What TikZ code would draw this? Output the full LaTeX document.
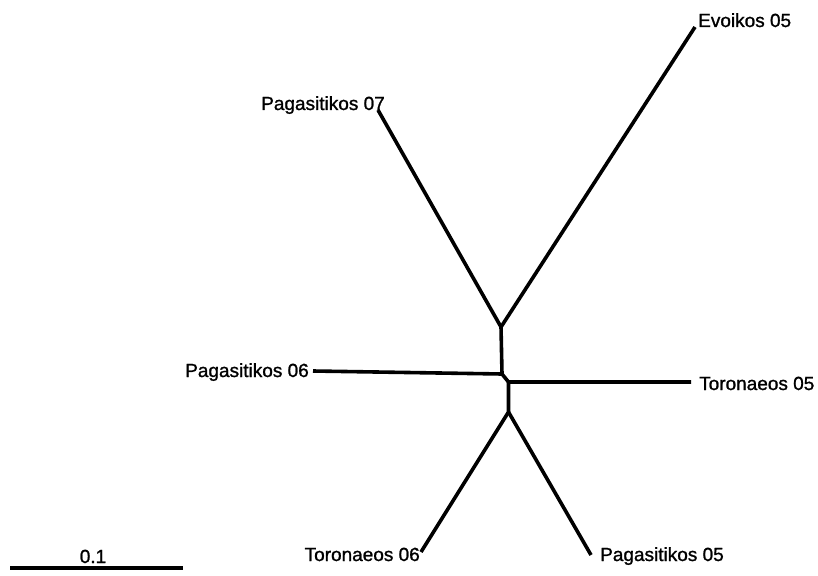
\documentclass[tikz,border=0pt]{standalone}
\usepackage{fontspec}
\setmainfont{Liberation Sans}
\newfontfamily\treefont{Liberation Sans}[FakeBold=1.2]
\usepackage{tikz}
\usetikzlibrary{positioning,calc}

\begin{document}
\begin{tikzpicture}[
  x=1pt, y=-1pt,
  branch/.style={line width=3.6pt, line join=round, black},
  lbl/.style={font=\treefont\fontsize{19}{22}\selectfont, inner sep=0pt, text=black},
  scalebar/.style={line width=4.5pt, black}
]
  \useasboundingbox (0,0) rectangle (818,575);

  % inner nodes of the tree
  \coordinate (nA) at (501,327);
  \coordinate (nB) at (502,374);
  \coordinate (nC) at (508.5,382);
  \coordinate (nD) at (508.5,412);

  % tips
  \coordinate (tEvo05) at (695,27);
  \coordinate (tPag07) at (378,110);
  \coordinate (tPag06) at (313,371);
  \coordinate (tTor05) at (691,382);
  \coordinate (tTor06) at (421,552);
  \coordinate (tPag05) at (591,555);

  \draw[branch] (tPag07) -- (nA) -- (tEvo05);
  \draw[branch] (nA) -- (nB) -- (tPag06);
  \draw[branch] (nB) -- (nC) -- (tTor05);
  \draw[branch] (nC) -- (nD) -- (tTor06);
  \draw[branch] (nD) -- (tPag05);

  % labels
  \node[lbl, anchor=base west] (lEvo05) at (698,27)  {Evoikos 05};
  \node[lbl, anchor=base east] (lPag07) at (385,110) {Pagasitikos 07};
  \node[lbl, anchor=base east] (lPag06) at (309,377) {Pagasitikos 06};
  \node[lbl, anchor=base west] (lTor05) at (699,390) {Toronaeos 05};
  \node[lbl, anchor=base east] (lTor06) at (420,561) {Toronaeos 06};
  \node[lbl, anchor=base west] (lPag05) at (600,561) {Pagasitikos 05};

  % scale
  \coordinate (sL) at (10,568);
  \coordinate (sR) at (183,568);
  \draw[scalebar] (sL) -- (sR);
  \node[lbl, anchor=base] (sLbl) at (93,563) {0.1};
\end{tikzpicture}
\end{document}
